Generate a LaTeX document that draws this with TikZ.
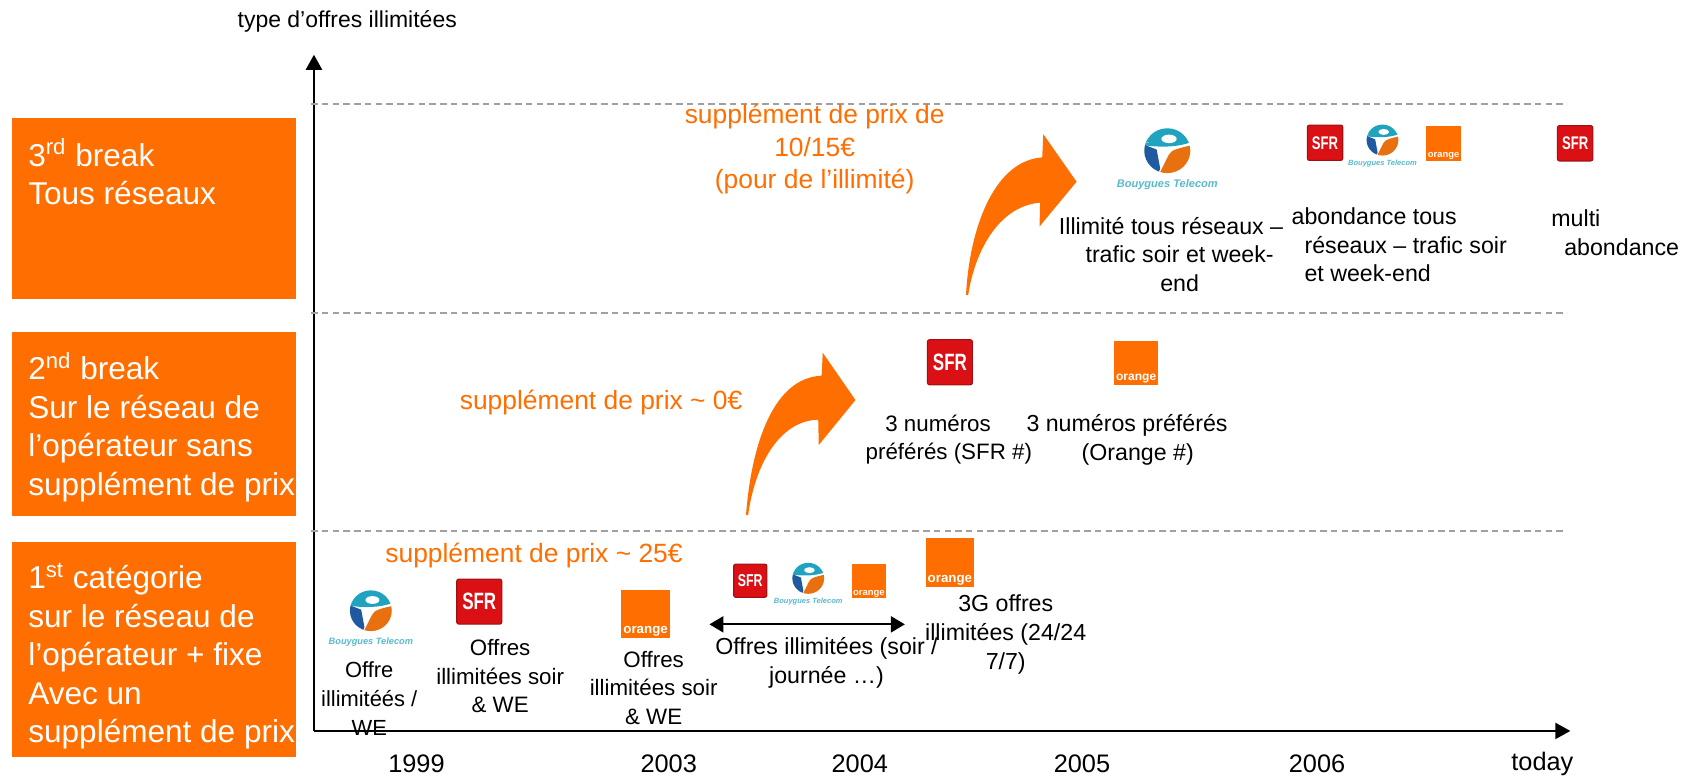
\documentclass[tikz,border=0pt]{standalone}
\usepackage{fontspec}
\usepackage{graphicx}
\setmainfont{Liberation Sans}
\usetikzlibrary{arrows.meta}
\definecolor{brand}{HTML}{FF6E00}
\definecolor{sfrred}{HTML}{DA1014}
\definecolor{sfrdark}{HTML}{9C1212}
\definecolor{bcyan}{HTML}{1FA3BE}
\definecolor{bblue}{HTML}{1F5AA0}
\definecolor{borange}{HTML}{E8700F}
\definecolor{dashgray}{HTML}{A0A0A0}
\tikzset{
  x=0.5pt,y=-0.5pt,
  sidebox/.style={fill=brand,draw=none,inner sep=0pt,minimum width=132pt,anchor=north west},
  sidetext/.style={text=white,align=left,anchor=north west,inner sep=0pt,font=\fontsize{14.7}{18}\selectfont},
  bodytext/.style={text=black,align=center,inner sep=0pt,font=\fontsize{10.8}{13.4}\selectfont},
  smalltext/.style={bodytext,font=\fontsize{10.4}{13.4}\selectfont},
  lefttext/.style={bodytext,align=left,anchor=west},
  pricetext/.style={text=brand,align=center,inner sep=0pt,font=\fontsize{12.3}{15}\selectfont},
  yeartext/.style={text=black,inner sep=0pt,font=\fontsize{11.8}{14}\selectfont},
  limitline/.style={dashgray,line width=0.9pt,dash pattern=on 3pt off 2pt},
  axisline/.style={black,line width=0.95pt,-{Triangle[length=7pt,width=7.5pt]}},
  spanarrow/.style={black,line width=0.95pt,{Triangle[length=6.5pt,width=7.5pt]}-{Triangle[length=6.5pt,width=7.5pt]}},
  bigarrow/.style={fill=brand,draw=none},
  sfrbox/.style={fill=sfrred,draw=sfrdark,line width=0.5pt,rounded corners=1pt,inner sep=0pt,text=white},
  orangebox/.style={fill=brand,draw=none,inner sep=0pt}
}
% name, centre x, centre y, size in pt, font size
\newcommand{\sfrlogo}[5]{\node[sfrbox,minimum size=#4pt] (#1) at (#2,#3) {\fontsize{#5}{#5}\selectfont\bfseries\scalebox{0.72}[1]{SFR}};}
\newcommand{\orangelogo}[5]{\node[orangebox,minimum size=#4pt,label={[anchor=south,inner sep=0.6pt,text=white,font=\fontsize{#5}{#5}\selectfont\bfseries]south:orange}] (#1) at (#2,#3) {};}
% name, centre x, centre y, scale, font size
\newcommand{\bouygueslogo}[5]{%
\begin{scope}[shift={(#2,#3)},scale=#4]
  \begin{scope}
    \clip (0,0) ellipse [x radius=19.5,y radius=19];
    \fill[bcyan] (-22,-24) rectangle (22,-7);
    \fill[bcyan] (-22,-7) -- (-22,-5) .. controls (-10,-3) and (8,-2) .. (22,-8) -- cycle;
    \fill[bblue] (-22,-6) -- (-9,-1) -- (-6,15) -- (-9,24) -- (-22,24) -- cycle;
    \fill[borange] (22,-5) .. controls (10,-2) and (3,-1) .. (1,4) -- (-7,20) -- (-7,24) -- (22,24) -- cycle;
    \fill[white] (1.5,-10) ellipse [x radius=6.5,y radius=3.6];
  \end{scope}
  \node[inner sep=0pt,text=bcyan!75,font=\fontsize{#5}{#5}\selectfont\bfseries\itshape] (#1) at (0,29) {Bouygues Telecom};
\end{scope}}
\begin{document}
\begin{tikzpicture}
\useasboundingbox (0,0) rectangle (1568,725.8);
% side boxes
\node[sidebox,minimum height=84pt] (boxc) at (11,110) {};
\node[sidebox,minimum height=85.5pt] (boxb) at (11,309) {};
\node[sidebox,minimum height=100pt] (boxa) at (11,505) {};
\node[sidetext] (textc) at (26,129) {3\textsuperscript{rd} break\\Tous réseaux};
\node[sidetext] (textb) at (26,328) {2\textsuperscript{nd} break\\Sur le réseau de\\l’opérateur sans\\supplément de prix};
\node[sidetext] (texta) at (26,524) {1\textsuperscript{st} catégorie\\sur le réseau de\\l’opérateur + fixe\\Avec un\\supplément de prix};
% title and axes
\node[inner sep=0pt,font=\fontsize{10.7}{12}\selectfont] (title) at (323.5,20) {type d’offres illimitées};
\coordinate (origin) at (292.5,681);
\coordinate (ytip) at (292.5,51);
\coordinate (xtip) at (1463,681);
\draw[axisline] (origin) -- (ytip);
\draw[axisline] (origin) -- (xtip);
% limits
\coordinate (l1a) at (290,97);\coordinate (l1b) at (1460,97);
\coordinate (l2a) at (290,292);\coordinate (l2b) at (1460,292);
\coordinate (l3a) at (290,495);\coordinate (l3b) at (1458,495);
\draw[limitline] (l1a) -- (l1b);
\draw[limitline] (l2a) -- (l2b);
\draw[limitline] (l3a) -- (l3b);
% years
\node[yeartext] (y1999) at (388,712) {1999};
\node[yeartext] (y2003) at (623,712) {2003};
\node[yeartext] (y2004) at (801,712) {2004};
\node[yeartext] (y2005) at (1008,712) {2005};
\node[yeartext] (y2006) at (1227,712) {2006};
\node[yeartext] (today) at (1437,712) {today};
% price labels
\node[pricetext] (p3) at (759,139) {supplément de prix de\\10/15€\\(pour de l’illimité)};
\node[pricetext] (p2) at (560,375) {supplément de prix \textasciitilde{} 0€};
\node[pricetext] (p1) at (497.5,518) {supplément de prix \textasciitilde{} 25€};
% big arrows
\fill[bigarrow] (900,275) .. controls (903,215) and (925,150) .. (971,146.6) -- (972,125) -- (1003,169.3) -- (968.5,211) -- (969,188.8) .. controls (930,192) and (908,235) .. (902,275) -- cycle;
\fill[bigarrow] (695,480) .. controls (700,415) and (720,352) .. (765.5,350) -- (766.5,328.6) -- (797,372.7) -- (762.8,414.6) -- (762.3,391) .. controls (725,392) and (703,435) .. (697,480) -- cycle;
% row 1 logos and text
\bouygueslogo{b1}{345.5}{569}{1}{4.3}
\sfrlogo{s1}{446.5}{560.5}{21}{11}
\orangelogo{o1}{601.5}{572}{22.5}{6.2}
\sfrlogo{s2}{699}{541}{15.5}{8}
\bouygueslogo{b2}{753}{538.8}{0.76}{3.5}
\orangelogo{o2}{809.5}{541.5}{16}{4.4}
\orangelogo{o3}{885}{524}{22.5}{6.2}
\coordinate (spanl) at (661,581.7);
\coordinate (spanr) at (843,581.7);
\draw[spanarrow] (spanl) -- (spanr);
\node[smalltext,font=\fontsize{10.2}{13.4}\selectfont] (t1) at (344,651) {Offre\\illimitéés /\\WE};
\node[smalltext] (t2) at (466,630) {Offres\\illimitées soir\\\& WE};
\node[smalltext] (t3) at (609,641) {Offres\\illimitées soir\\\& WE};
\node[bodytext] (t4) at (770,617.5) {Offres illimitées (soir /\\journée …)};
\node[bodytext] (t5) at (937,591) {3G offres\\illimitées (24/24\\7/7)};
% row 2
\sfrlogo{s3}{885}{337.5}{21}{11}
\orangelogo{o4}{1058.5}{338}{20.5}{5.6}
\node[smalltext] (t6) at (884,409.5) {3 numéros\hspace*{10pt}\\préférés (SFR \#)};
\node[bodytext] (t7) at (1060,409.5) {3 numéros préférés\hspace*{10pt}\\(Orange \#)};
% row 3
\bouygueslogo{b3}{1087.5}{140.4}{1.1}{5.15}
\sfrlogo{s4}{1234.5}{133}{16.5}{8.5}
\bouygueslogo{b4}{1288}{130.5}{0.76}{3.5}
\orangelogo{o5}{1345}{133.5}{16.2}{4.4}
\sfrlogo{s5}{1467.5}{133.5}{16.5}{8.5}
\node[bodytext] (t8) at (1099,237) {Illimité tous réseaux –\hspace*{8pt}\\trafic soir et week-\\end};
\node[lefttext] (t9) at (1203,228) {abondance tous\\\hspace*{6pt}réseaux – trafic soir\\\hspace*{6pt}et week-end};
\node[lefttext] (t10) at (1445,217) {multi\\\hspace*{6pt}abondance};
\end{tikzpicture}
\end{document}
